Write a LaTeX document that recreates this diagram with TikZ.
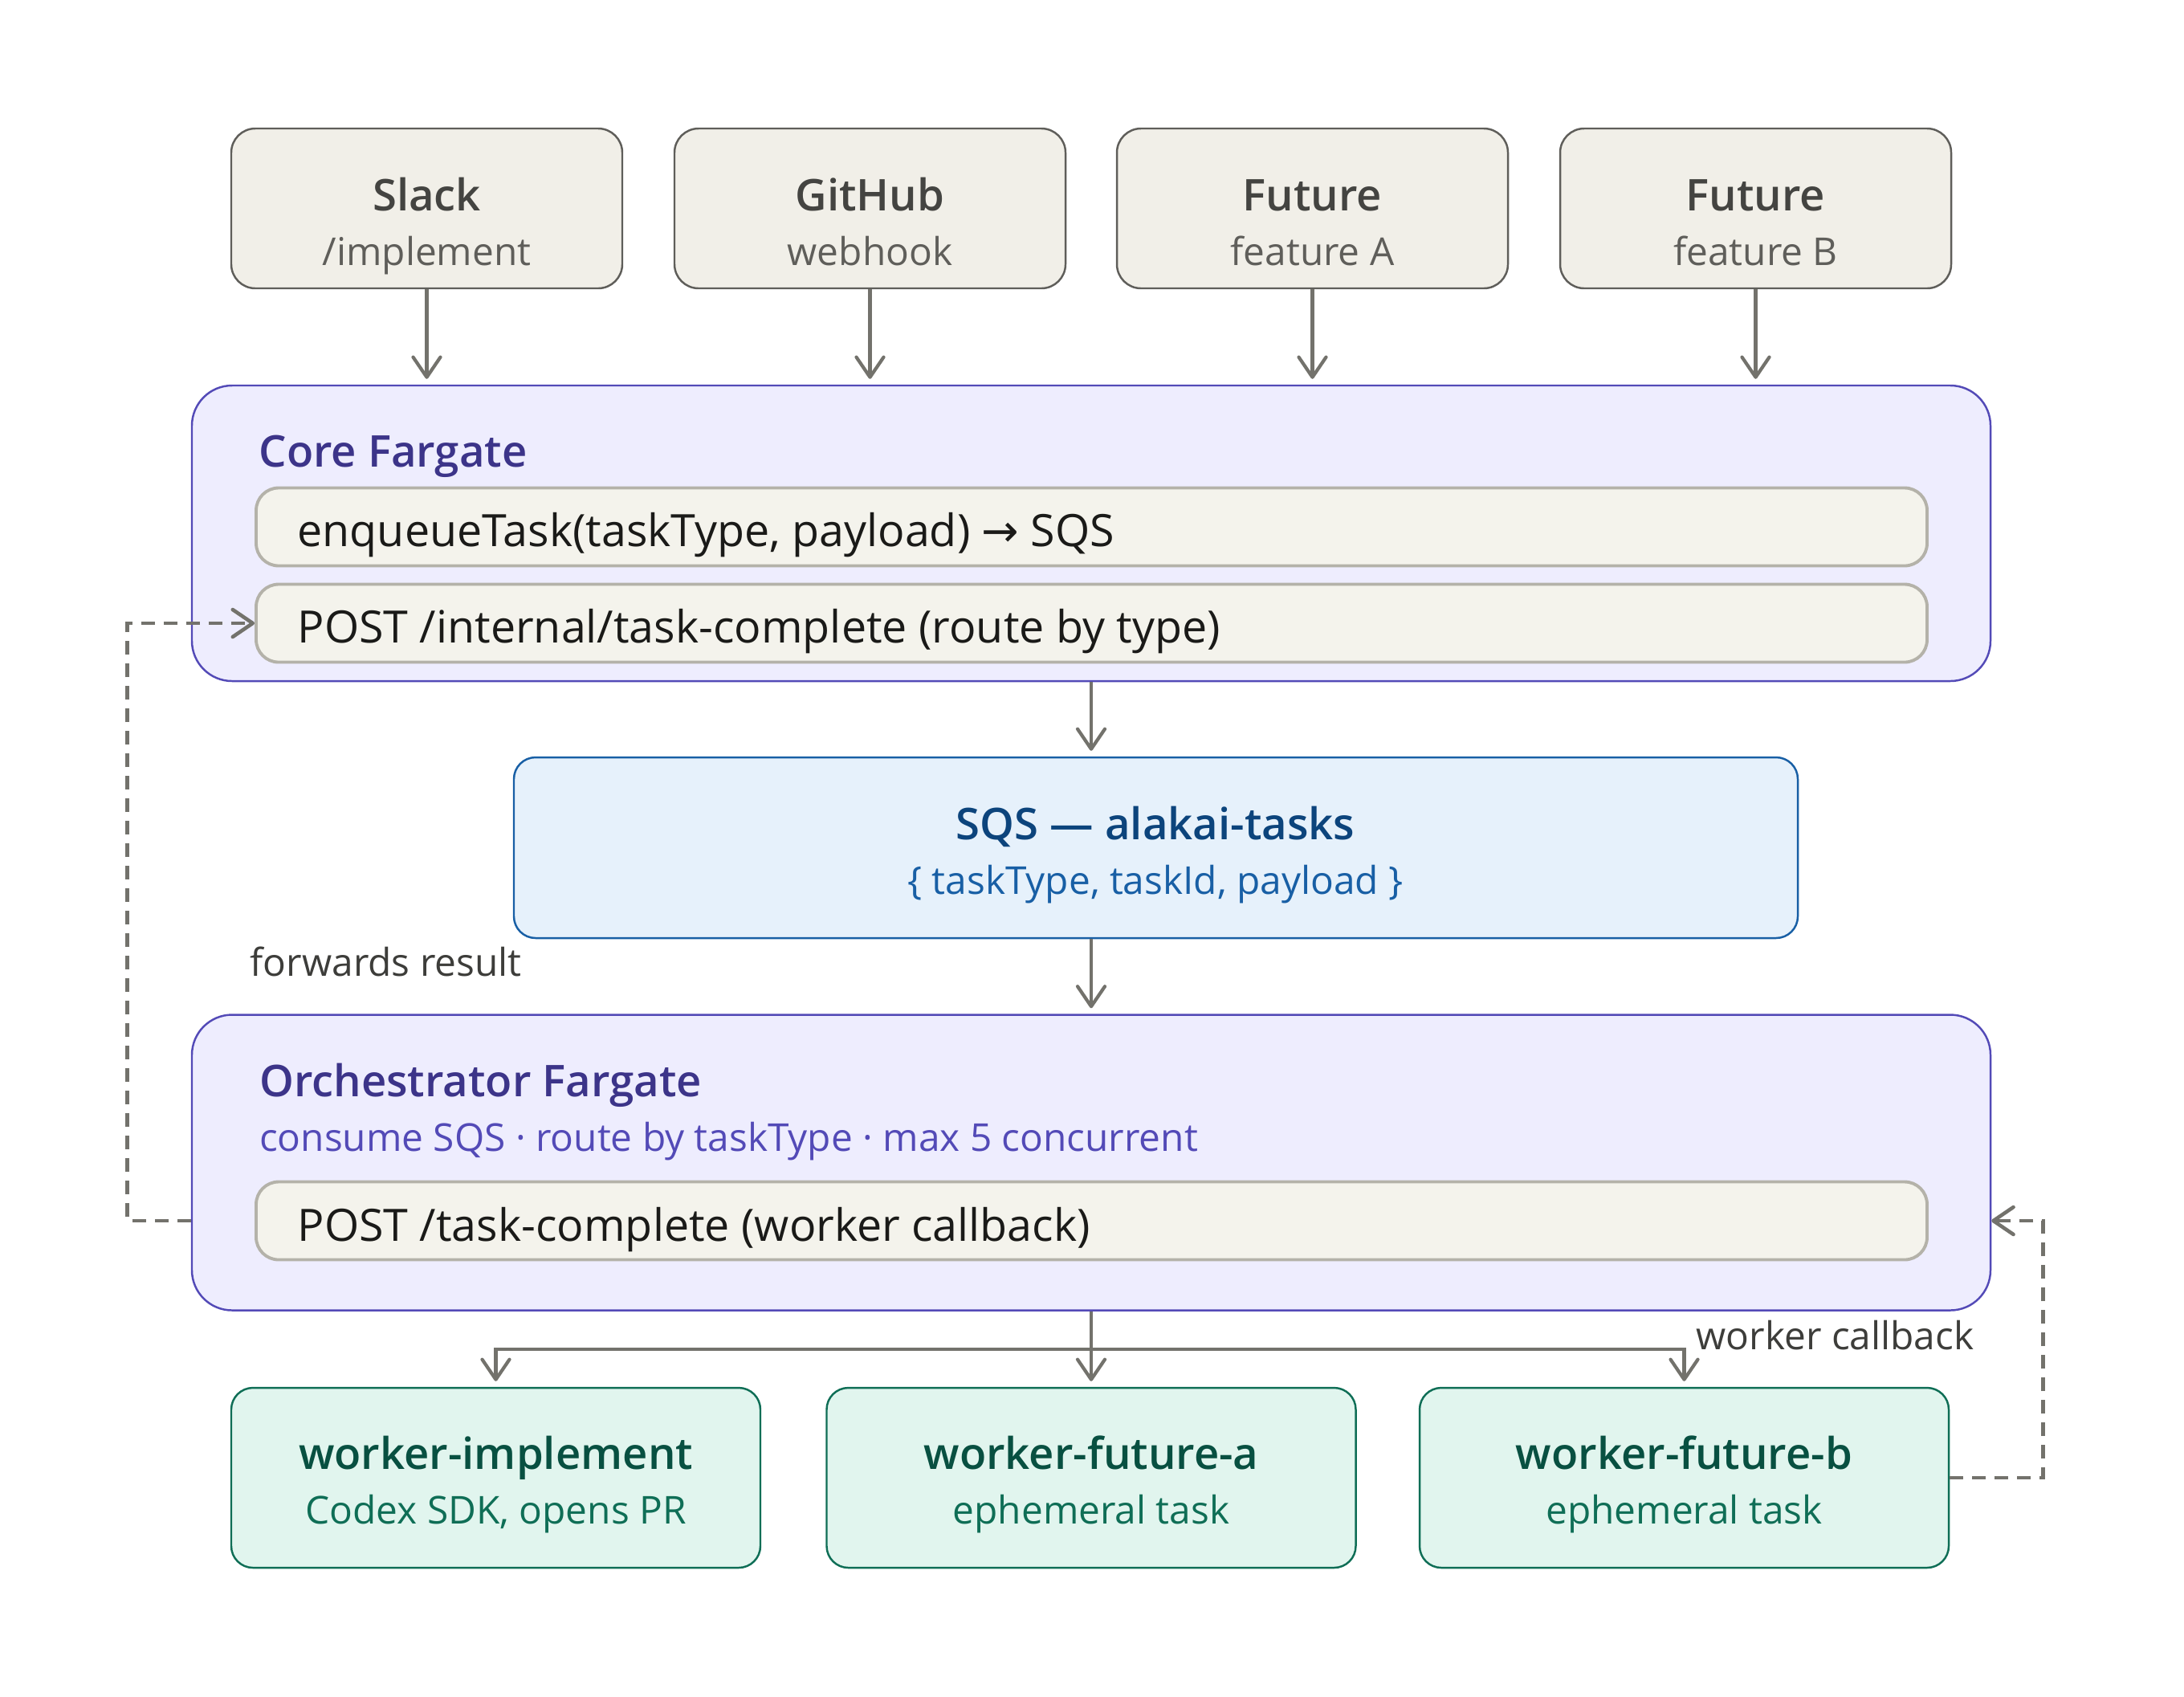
\documentclass[tikz,border=0pt]{standalone}
\usepackage{fontspec}
\setmainfont{Open Sans}[BoldFont={Open Sans Semibold}]
\newfontfamily\symfont{DejaVu Sans}
\usepackage{tikz}
\usetikzlibrary{arrows.meta,positioning}
\definecolor{srcfill}{HTML}{F1EFE8}
\definecolor{srcdraw}{HTML}{5F5E5A}
\definecolor{srctitle}{HTML}{444441}
\definecolor{srcsub}{HTML}{5F5E5A}
\definecolor{fgfill}{HTML}{EEEDFE}
\definecolor{fgdraw}{HTML}{534AB7}
\definecolor{fgtitle}{HTML}{3C3489}
\definecolor{fgsub}{HTML}{534AB7}
\definecolor{rowfill}{HTML}{F4F3EC}
\definecolor{rowdraw}{HTML}{B4B2A9}
\definecolor{rowtext}{HTML}{1A1A18}
\definecolor{sqsfill}{HTML}{E6F1FB}
\definecolor{sqsdraw}{HTML}{185FA5}
\definecolor{sqstitle}{HTML}{0C447C}
\definecolor{sqssub}{HTML}{185FA5}
\definecolor{wkfill}{HTML}{E1F5EE}
\definecolor{wkdraw}{HTML}{0F6E56}
\definecolor{wktitle}{HTML}{085041}
\definecolor{wksub}{HTML}{0F6E56}
\definecolor{linegray}{HTML}{73726C}
\definecolor{labeltext}{HTML}{3D3D3A}

\begin{document}
\begin{tikzpicture}[
  src/.style={draw=srcdraw,fill=srcfill,line width=0.7pt,rounded corners=0.3cm,
              minimum width=4.87cm,minimum height=1.99cm},
  fargate/.style={draw=fgdraw,fill=fgfill,line width=0.7pt,rounded corners=0.5cm,
              minimum width=22.4cm,minimum height=3.68cm},
  row/.style={draw=rowdraw,fill=rowfill,line width=1.1pt,rounded corners=0.28cm,
              minimum width=20.81cm,minimum height=0.97cm},
  queue/.style={draw=sqsdraw,fill=sqsfill,line width=0.7pt,rounded corners=0.27cm,
              minimum width=15.99cm,minimum height=2.25cm},
  worker/.style={draw=wkdraw,fill=wkfill,line width=0.7pt,rounded corners=0.27cm,
              minimum width=6.59cm,minimum height=2.24cm},
  big/.style={anchor=base,inner sep=0pt,font=\bfseries\fontsize{15.5}{18}\selectfont},
  small/.style={anchor=base,inner sep=0pt,font=\fontsize{13.6}{16}\selectfont},
  rowtxt/.style={anchor=base west,inner sep=0pt,text=rowtext,font=\fontsize{15.8}{19}\selectfont},
  arr/.style={draw=linegray,line width=1.2pt,-{Straight Barb[length=0.25cm,width=0.34cm,round]},
              shorten >=0.07cm},
  back/.style={draw=linegray,line width=1.3pt,dash pattern=on 0.17cm off 0.11cm,
              -{Straight Barb[length=0.25cm,width=0.34cm,round]}}]
  \useasboundingbox (0,0) rectangle (27.2,-21.12);
  % Entry points
  \node[src] (slack) at (5.315,-2.595) {};
  \node[src] (github) at (10.835,-2.595) {};
  \node[src] (futa) at (16.345,-2.595) {};
  \node[src] (futb) at (21.865,-2.595) {};
  \node[big,text=srctitle] (slackT) at (5.315,-2.62) {Slack};
  \node[small,text=srcsub] (slackS) at (5.315,-3.30) {/implement};
  \node[big,text=srctitle] (githubT) at (10.835,-2.62) {GitHub};
  \node[small,text=srcsub] (githubS) at (10.835,-3.30) {webhook};
  \node[big,text=srctitle] (futaT) at (16.345,-2.62) {Future};
  \node[small,text=srcsub] (futaS) at (16.345,-3.30) {feature A};
  \node[big,text=srctitle] (futbT) at (21.865,-2.62) {Future};
  \node[small,text=srcsub] (futbS) at (21.865,-3.30) {feature B};
  % Core service
  \node[fargate] (core) at (13.59,-6.64) {};
  \node[big,anchor=base west,text=fgtitle] (coreT) at (3.22,-5.81) {Core Fargate};
  \node[row] (crow1) at (13.595,-6.56) {};
  \node[rowtxt] (crow1T) at (3.70,-6.80) {enqueueTask(taskType, payload) {\symfont →} SQS};
  \node[row] (crow2) at (13.595,-7.76) {};
  \node[rowtxt] (crow2T) at (3.70,-8.00) {POST /internal/task-complete (route by type)};
  % Queue
  \node[queue] (sqs) at (14.395,-10.555) {};
  \node[big,text=sqstitle] (sqsT) at (14.39,-10.45) {SQS — alakai-tasks};
  \node[small,text=sqssub] (sqsS) at (14.39,-11.13) {\{ taskType, taskId, payload \}};
  % Orchestrator
  \node[fargate] (orch) at (13.59,-14.475) {};
  \node[big,anchor=base west,text=fgtitle] (orchT) at (3.225,-13.65) {Orchestrator Fargate};
  \node[small,anchor=base west,text=fgsub] (orchS) at (3.225,-14.33)
    {consume SQS · route by taskType · max 5 concurrent};
  \node[row] (orow) at (13.595,-15.20) {};
  \node[rowtxt] (orowT) at (3.70,-15.45) {POST /task-complete (worker callback)};
  % Workers
  \node[worker] (wimpl) at (6.175,-18.40) {};
  \node[worker] (wfa) at (13.59,-18.40) {};
  \node[worker] (wfb) at (20.975,-18.40) {};
  \node[big,text=wktitle] (wimplT) at (6.175,-18.29) {worker-implement};
  \node[small,text=wksub] (wimplS) at (6.175,-18.97) {Codex SDK, opens PR};
  \node[big,text=wktitle] (wfaT) at (13.59,-18.29) {worker-future-a};
  \node[small,text=wksub] (wfaS) at (13.59,-18.97) {ephemeral task};
  \node[big,text=wktitle] (wfbT) at (20.975,-18.29) {worker-future-b};
  \node[small,text=wksub] (wfbS) at (20.975,-18.97) {ephemeral task};
  % Arrows
  \draw[arr] (slack.south) -- (slack.south |- core.north);
  \draw[arr] (github.south) -- (github.south |- core.north);
  \draw[arr] (futa.south) -- (futa.south |- core.north);
  \draw[arr] (futb.south) -- (futb.south |- core.north);
  \draw[arr] (core.south) -- (core.south |- sqs.north);
  \draw[arr] (core.south |- sqs.south) -- (orch.north);
  \draw[draw=linegray,line width=1.2pt] (orch.south) -- ++(0,-0.47) coordinate (split);
  \draw[arr] (split) -| (wimpl.north);
  \draw[arr] (split) -- (wfa.north);
  \draw[arr] (split) -| (wfb.north);
  % Callbacks
  \draw[back] (wfb.east) -- ++(1.16,0) |- (orch.east |- orow);
  \draw[back] (orow -| orch.west) -- ++(-0.79,0) |- (crow2.west);
  % Labels
  \node[small,anchor=base west,text=labeltext] (fwdL) at (3.11,-12.15) {forwards result};
  \node[small,anchor=base west,text=labeltext] (cbL) at (21.12,-16.80) {worker callback};
\end{tikzpicture}
\end{document}
